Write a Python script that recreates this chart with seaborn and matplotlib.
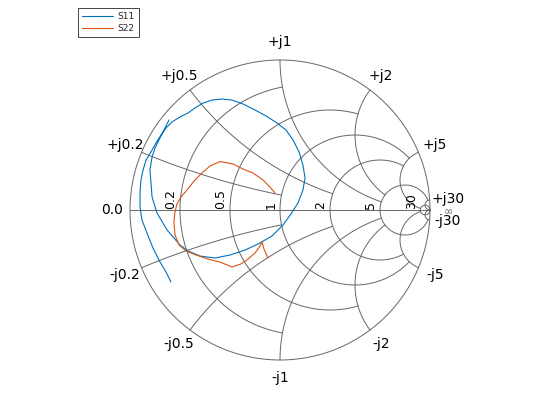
import numpy as np
import seaborn as sns
import matplotlib.pyplot as plt

sns.set_theme(style='white')
plt.rcParams['font.family'] = ['DejaVu Sans']

s11_re = [-0.727, -0.76, -0.8, -0.847, -0.887, -0.92, -0.933, -0.933, -0.927, -0.913, -0.893,
          -0.86, -0.827, -0.793, -0.76, -0.72, -0.667, -0.613, -0.567, -0.513, -0.453, -0.387,
          -0.32, -0.247, -0.167, -0.093, -0.02, 0.04, 0.087, 0.127, 0.153, 0.167, 0.153, 0.12,
          0.073, 0.02, -0.053, -0.147, -0.233, -0.333, -0.433, -0.533, -0.613, -0.667, -0.753,
          -0.82, -0.853, -0.86, -0.867, -0.853, -0.833, -0.807, -0.78, -0.76, -0.74]
s11_im = [-0.48, -0.413, -0.347, -0.253, -0.153, -0.067, 0.02, 0.113, 0.2, 0.267, 0.333,
          0.387, 0.447, 0.5, 0.547, 0.587, 0.62, 0.647, 0.68, 0.713, 0.733, 0.74,
          0.733, 0.707, 0.667, 0.627, 0.58, 0.533, 0.467, 0.387, 0.3, 0.213, 0.133, 0.047,
          -0.027, -0.1, -0.173, -0.227, -0.267, -0.3, -0.32, -0.307, -0.273, -0.233, -0.133,
          -0.02, 0.087, 0.18, 0.267, 0.353, 0.413, 0.467, 0.52, 0.56, 0.6]

s22_re = [-0.033, -0.067, -0.113, -0.18, -0.247, -0.313, -0.4, -0.467, -0.52, -0.573, -0.62,
          -0.66, -0.687, -0.7, -0.707, -0.7, -0.673, -0.627, -0.56, -0.48, -0.4, -0.32,
          -0.26, -0.213, -0.167, -0.133, -0.12, -0.107, -0.08]
s22_im = [0.113, 0.153, 0.2, 0.247, 0.273, 0.307, 0.323, 0.293, 0.247, 0.193, 0.133,
          0.087, 0.04, -0.013, -0.08, -0.167, -0.233, -0.273, -0.3, -0.327, -0.347, -0.38,
          -0.36, -0.327, -0.287, -0.24, -0.213, -0.26, -0.32]

grid_vals = [0.2, 0.5, 1, 2, 5, 30]
grid_lims = [1, 2, 5, 5, 30, np.inf]
r_labels = ['0.2', '0.5', '1', '2', '5', '30']
x_labels = ['0.2', '0.5', '1', '2', '5', '30']

gcol = '#666666'
glw = 0.7


def gamma(z):
    return (z - 1) / (z + 1)


fig = plt.figure(figsize=(5.6, 4.2), dpi=100)
ax = fig.add_axes([0, 0, 1, 1])
ax.set_xlim(-280 / 150, 280 / 150)
ax.set_ylim(-1.4, 1.4)
ax.axis('off')

# outer circle and real axis
t = np.linspace(0, 2 * np.pi, 720)
ax.plot(np.cos(t), np.sin(t), color=gcol, lw=glw)
ax.plot([-1, 1], [0, 0], color=gcol, lw=glw)

for v, lim in zip(grid_vals, grid_lims):
    # constant resistance circle, clipped at |x| = lim
    a = np.linspace(-np.arctan(lim), np.arctan(lim), 800)
    g = gamma(v + 1j * np.tan(a))
    ax.plot(g.real, g.imag, color=gcol, lw=glw)
    # constant reactance arcs, clipped at r = lim
    b = np.linspace(0, min(np.arctan(lim), np.pi / 2 - 1e-6), 800)
    for sgn in (1, -1):
        g = gamma(np.tan(b) + 1j * sgn * v)
        ax.plot(g.real, g.imag, color=gcol, lw=glw)

# resistance labels
for v, lab in zip(grid_vals, r_labels):
    g0 = (v - 1) / (v + 1)
    ax.text(g0 - 0.017, 0.008, lab, rotation=90, ha='right', va='bottom',
            fontsize=9, color='black')

# reactance labels
rl = 1.12
ax.text(-rl, 0, '0.0', ha='center', va='center', fontsize=10, color='black')
for v, lab in zip(grid_vals, x_labels):
    for sgn, pre in ((1, '+j'), (-1, '-j')):
        g = gamma(1j * sgn * v)
        ang = np.angle(g)
        ax.text(rl * np.cos(ang), rl * np.sin(ang), pre + lab,
                ha='center', va='center', fontsize=10, color='black')
ax.text(1.12, -0.012, '\u221e', ha='center', va='center', fontsize=8, color=gcol)

sns.lineplot(x=s11_re, y=s11_im, sort=False, estimator=None, color='#0072BD',
             lw=0.8, label='S11', ax=ax)
sns.lineplot(x=s22_re, y=s22_im, sort=False, estimator=None, color='#D95319',
             lw=0.8, label='S22', ax=ax)

leg = ax.legend(loc='upper left', bbox_to_anchor=(78 / 560, 1 - 8 / 420),
                borderaxespad=0, fontsize=6.5, fancybox=False, framealpha=1,
                edgecolor='#262626', handlelength=3.4, handletextpad=0.5,
                labelspacing=0.35, borderpad=0.45)
leg.get_frame().set_linewidth(0.6)

fig.savefig('out.png', dpi=100)
